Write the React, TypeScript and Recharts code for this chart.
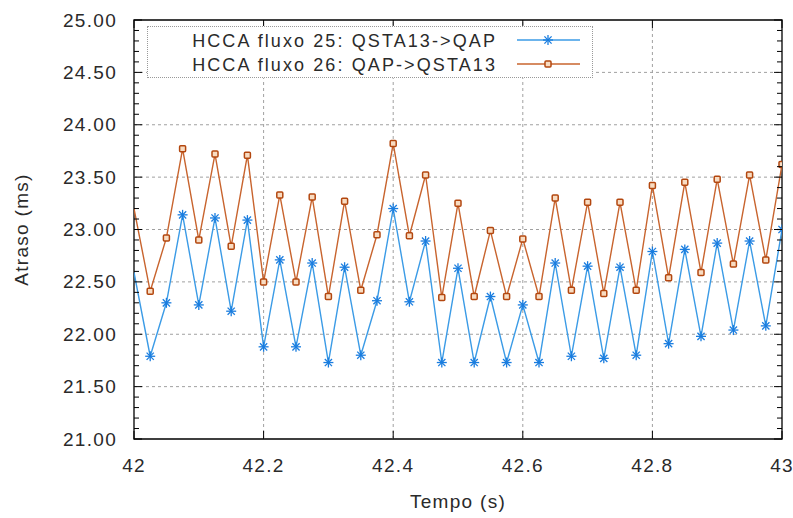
import React from 'react';
import { LineChart, Line, XAxis, YAxis, ReferenceLine, ReferenceArea, Label } from 'recharts';

// tempo (s)
const times = [
  42, 42.025, 42.05, 42.075, 42.1, 42.125, 42.15, 42.175, 42.2, 42.225,
  42.25, 42.275, 42.3, 42.325, 42.35, 42.375, 42.4, 42.425, 42.45, 42.475,
  42.5, 42.525, 42.55, 42.575, 42.6, 42.625, 42.65, 42.675, 42.7, 42.725,
  42.75, 42.775, 42.8, 42.825, 42.85, 42.875, 42.9, 42.925, 42.95, 42.975, 43,
];

// HCCA fluxo 25: QSTA13->QAP
const flow25 = [
  22.59, 21.79, 22.30, 23.14, 22.28, 23.11, 22.22, 23.09, 21.88, 22.71,
  21.88, 22.68, 21.73, 22.64, 21.80, 22.32, 23.20, 22.31, 22.89, 21.73,
  22.63, 21.73, 22.36, 21.73, 22.28, 21.73, 22.68, 21.79, 22.65, 21.77,
  22.64, 21.80, 22.79, 21.91, 22.81, 21.98, 22.87, 22.04, 22.89, 22.08, 23.00,
];

// HCCA fluxo 26: QAP->QSTA13
const flow26 = [
  23.20, 22.41, 22.92, 23.77, 22.90, 23.72, 22.84, 23.71, 22.50, 23.33,
  22.50, 23.31, 22.36, 23.27, 22.42, 22.95, 23.82, 22.94, 23.52, 22.35,
  23.25, 22.36, 22.99, 22.36, 22.91, 22.36, 23.30, 22.42, 23.26, 22.39,
  23.26, 22.42, 23.42, 22.54, 23.45, 22.59, 23.48, 22.67, 23.52, 22.71, 23.62,
];

const xTicks = [42, 42.2, 42.4, 42.6, 42.8, 43];
const xGrid = [42.2, 42.4, 42.6, 42.8];
const yTicks = [
  21, 21.1, 21.2, 21.3, 21.4, 21.5, 21.6, 21.7, 21.8, 21.9,
  22, 22.1, 22.2, 22.3, 22.4, 22.5, 22.6, 22.7, 22.8, 22.9,
  23, 23.1, 23.2, 23.3, 23.4, 23.5, 23.6, 23.7, 23.8, 23.9,
  24, 24.1, 24.2, 24.3, 24.4, 24.5, 24.6, 24.7, 24.8, 24.9, 25,
];
const yGrid = [21.5, 22, 22.5, 23, 23.5, 24, 24.5];

const seriesNames = ['HCCA fluxo 25: QSTA13->QAP', 'HCCA fluxo 26: QAP->QSTA13'];

const data = times.map((t, i) => ({ t, a: flow25[i], b: flow26[i] }));

const W = 793;
const H = 518;
const PL = 134;
const PR = 782;
const PT = 20;
const PB = 439;
const FONT = '"Liberation Sans", Arial, sans-serif';
const TEXT = '#2a2a2a';
const BLUE = '#3b9be6';
const BLUE_DARK = '#1a7ddf';
const ORANGE = '#c8642e';
const ORANGE_DARK = '#b3470f';

const Star = ({ cx, cy }: { cx: number; cy: number }) => {
  const r = 5;
  const d = r * 0.72;
  return (
    <g stroke={BLUE_DARK} strokeWidth={1.3}>
      <line x1={cx - r} y1={cy} x2={cx + r} y2={cy} />
      <line x1={cx} y1={cy - r} x2={cx} y2={cy + r} />
      <line x1={cx - d} y1={cy - d} x2={cx + d} y2={cy + d} />
      <line x1={cx - d} y1={cy + d} x2={cx + d} y2={cy - d} />
    </g>
  );
};

const Box = ({ cx, cy }: { cx: number; cy: number }) => (
  <rect x={cx - 3} y={cy - 3} width={6} height={6} rx={1} fill="#f8dcc2" stroke={ORANGE_DARK} strokeWidth={1.5} />
);

const starDot = (p: any) =>
  p.index === 0 ? <g key={`s${p.index}`} /> : <g key={`s${p.index}`}><Star cx={p.cx} cy={p.cy} /></g>;
const boxDot = (p: any) =>
  p.index === 0 ? <g key={`b${p.index}`} /> : <g key={`b${p.index}`}><Box cx={p.cx} cy={p.cy} /></g>;

const isMajor = (v: number) => Math.abs(v * 2 - Math.round(v * 2)) < 1e-6;

const YTick = (props: any) => {
  const { y, payload } = props;
  const major = isMajor(payload.value);
  const len = major ? 8 : 5;
  return (
    <g>
      <line x1={PL} x2={PL + len} y1={y} y2={y} stroke="#000" strokeWidth={1} />
      <line x1={PR} x2={PR - len} y1={y} y2={y} stroke="#000" strokeWidth={1} />
      {major && (
        <text x={117} y={y} dy={6.5} textAnchor="end" fontSize={19} letterSpacing={1.3} fill={TEXT} fontFamily={FONT}>
          {payload.value.toFixed(2)}
        </text>
      )}
    </g>
  );
};

const XTick = (props: any) => {
  const { x, payload } = props;
  return (
    <g>
      <line x1={x} x2={x} y1={PB} y2={PB - 8} stroke="#000" strokeWidth={1} />
      <line x1={x} x2={x} y1={PT} y2={PT + 8} stroke="#000" strokeWidth={1} />
      <text x={x} y={PB + 33} textAnchor="middle" fontSize={19} letterSpacing={1.3} fill={TEXT} fontFamily={FONT}>
        {String(Number(payload.value.toFixed(1)))}
      </text>
    </g>
  );
};

const LegendBox = () => (
  <div
    style={{
      position: 'absolute',
      left: 147,
      top: 26,
      width: 446,
      height: 52,
      boxSizing: 'border-box',
      border: '1px dotted #999',
      background: '#fff',
    }}
  >
    <svg width={444} height={50} style={{ display: 'block' }}>
      {seriesNames.map((name, i) => {
        const cy = 13 + i * 24;
        return (
          <g key={name}>
            <text x={349} y={cy + 6.5} textAnchor="end" fontSize={18} letterSpacing={2.1} fill={TEXT} fontFamily={FONT}>
              {name}
            </text>
            <line x1={369} x2={432} y1={cy} y2={cy} stroke={i === 0 ? BLUE : ORANGE} strokeWidth={1.4} />
            {i === 0 ? <Star cx={400} cy={cy} /> : <Box cx={400} cy={cy} />}
          </g>
        );
      })}
    </svg>
  </div>
);

export default function App() {
  return (
    <div style={{ position: 'absolute', left: 0, top: 0, width: W, height: H, background: '#fff' }}>
      <LineChart width={W} height={H} data={data} margin={{ top: PT, right: W - PR, left: 0, bottom: 0 }}>
        {xGrid.map((v) => (
          <ReferenceLine key={`gx${v}`} x={v} stroke="#a0a0a0" strokeDasharray="3 3" />
        ))}
        {yGrid.map((v) => (
          <ReferenceLine key={`gy${v}`} y={v} stroke="#a0a0a0" strokeDasharray="3 3" />
        ))}
        <XAxis
          dataKey="t"
          type="number"
          domain={[42, 43]}
          ticks={xTicks}
          interval={0}
          height={H - PB}
          axisLine={false}
          tickLine={false}
          tick={<XTick />}
          allowDataOverflow
        >
          <Label
            content={() => (
              <text x={(PL + PR) / 2} y={508} textAnchor="middle" fontSize={19} letterSpacing={1.3} fill={TEXT} fontFamily={FONT}>
                Tempo (s)
              </text>
            )}
          />
        </XAxis>
        <YAxis
          type="number"
          domain={[21, 25]}
          ticks={yTicks}
          interval={0}
          width={PL}
          axisLine={false}
          tickLine={false}
          tick={<YTick />}
          allowDataOverflow
        >
          <Label
            content={() => (
              <text
                x={28}
                y={(PT + PB) / 2}
                transform={`rotate(-90, 28, ${(PT + PB) / 2})`}
                textAnchor="middle"
                fontSize={19}
                letterSpacing={1.3}
                fill={TEXT}
                fontFamily={FONT}
              >
                Atraso (ms)
              </text>
            )}
          />
        </YAxis>
        <Line
          type="linear"
          dataKey="a"
          stroke={BLUE}
          strokeWidth={1.4}
          dot={starDot}
          activeDot={false}
          isAnimationActive={false}
        />
        <Line
          type="linear"
          dataKey="b"
          stroke={ORANGE}
          strokeWidth={1.4}
          dot={boxDot}
          activeDot={false}
          isAnimationActive={false}
        />
        <ReferenceArea x1={42} x2={43} y1={21} y2={25} fill="none" stroke="#000" strokeWidth={1.3} ifOverflow="visible" />
      </LineChart>
      <LegendBox />
    </div>
  );
}
